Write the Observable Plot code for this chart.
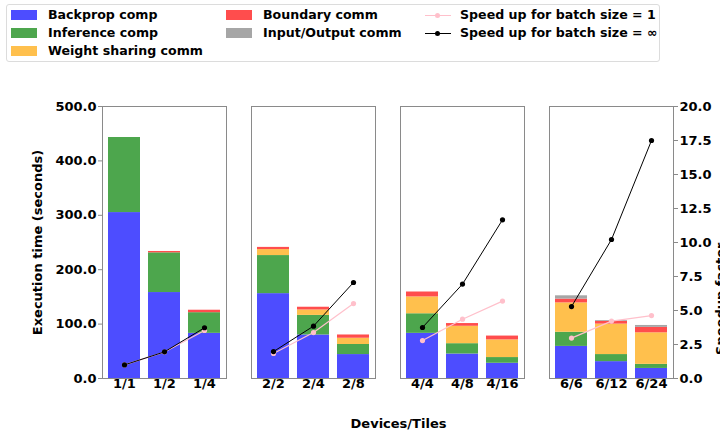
<!DOCTYPE html>
<html>
<head>
<meta charset="utf-8">
<script src="https://cdn.jsdelivr.net/npm/d3@7"></script>
<script src="https://cdn.jsdelivr.net/npm/@observablehq/plot@0.6"></script>
<style>
  body { margin: 0; background: white; }
  #wrap { position: relative; width: 720px; height: 435px; overflow: hidden; font-family: "DejaVu Sans", sans-serif; font-weight: bold; }
  #wrap svg { position: absolute; left: 0; top: 0; }
  #legend { position: absolute; left: 6px; top: 4px; width: 654px; height: 58px; border: 1px solid #dcdcdc; border-radius: 3px; background: white; box-sizing: border-box; z-index: 5; }
  .item { position: absolute; font-size: 12.6px; line-height: 16px; white-space: nowrap; color: black; }
  .sw { position: absolute; width: 26px; height: 10px; }
  .ln { position: absolute; width: 26px; height: 1px; }
  .dt { position: absolute; width: 5px; height: 5px; border-radius: 50%; }
</style>
</head>
<body>
<div id="wrap">
  <div id="legend"></div>
</div>
<script>
// ---- data ----
const groups = ["1", "2", "4", "6"];
const tileLabels = ["1/1", "1/2", "1/4", "2/2", "2/4", "2/8", "4/4", "4/8", "4/16", "6/6", "6/12", "6/24"];
const components = ["Backprop comp", "Inference comp", "Weight sharing comm", "Boundary comm", "Input/Output comm"];
const componentColors = ["#4d4dff", "#4da64d", "#ffc04d", "#ff4d4d", "#a6a6a6"];
const backprop      = [305, 158, 83, 156, 80, 44, 83, 45, 28, 59, 31, 18.5];
const inference     = [138, 73, 38, 70, 36, 18.5, 36, 19, 10.5, 26, 13, 7.5];
const weightSharing = [0, 0, 0, 11, 10, 11.5, 31, 32, 32.5, 54, 56, 58];
const boundary      = [0, 2.5, 4.5, 4, 5, 6, 9, 5, 7, 7, 5, 10];
const inputOutput   = [0, 0, 0, 0, 0, 0, 0, 0, 0, 6, 1.5, 3.5];
const speedupBatch1   = [1.0, 1.95, 3.53, 1.84, 3.38, 5.51, 2.79, 4.36, 5.69, 2.97, 4.22, 4.63];
const speedupBatchInf = [1.0, 1.96, 3.73, 1.98, 3.85, 7.06, 3.75, 6.94, 11.67, 5.29, 10.22, 17.5];
const timeTicks = [0, 100, 200, 300, 400, 500];
const speedTicks = [0, 2.5, 5, 7.5, 10, 12.5, 15, 17.5, 20];

// ---- tables ----
const series = [backprop, inference, weightSharing, boundary, inputOutput];
const tiles = tileLabels.map((label, i) => ({label, group: label.split("/")[0], idx: i % 3, s1: speedupBatch1[i], sInf: speedupBatchInf[i]}));
const stacks = [];
tiles.forEach((t, i) => components.forEach((c, k) => {
  if (series[k][i] > 0) stacks.push({group: t.group, idx: t.idx, comp: c, value: series[k][i]});
}));

const common = {
  width: 720, height: 435,
  marginTop: 106, marginBottom: 57, marginLeft: 101, marginRight: 45,
  style: {fontFamily: "DejaVu Sans", fontWeight: "bold", fontSize: "13px", color: "black", background: "transparent"},
  fx: {domain: groups, paddingInner: 0.167, paddingOuter: 0, axis: null, label: null},
  x: {type: "band", domain: [0, 1, 2], paddingInner: 0.2, paddingOuter: 0.14, axis: null}
};

const bars = Plot.plot({
  ...common,
  y: {domain: [0, 500]},
  color: {domain: components, range: componentColors},
  marks: [
    Plot.barY(stacks, {fx: "group", x: "idx", y: "value", fill: "comp", order: components}),
    Plot.frame({stroke: "#8a8a8a"}),
    Plot.axisY({ticks: timeTicks, tickFormat: d => d.toFixed(1), tickSize: 4, tickPadding: 2, stroke: "#8a8a8a", fill: "black",
      label: "Execution time (seconds)", labelAnchor: "center", labelOffset: 70, labelArrow: "none"}),
    Plot.text(tiles, {fx: "group", x: "idx", text: "label", frameAnchor: "bottom", dy: 9, fill: "black"}),
    Plot.text([{group: "4", t: "Devices/Tiles"}], {fx: "group", text: "t", frameAnchor: "bottom-left", textAnchor: "middle", dx: -2, dy: 49, fill: "black"})
  ]
});

const speed = Plot.plot({
  ...common,
  y: {domain: [0, 20]},
  marks: [
    Plot.line(tiles, {fx: "group", x: "idx", y: "s1", stroke: "pink", strokeWidth: 1.2}),
    Plot.dot(tiles, {fx: "group", x: "idx", y: "s1", fill: "pink", r: 2.6}),
    Plot.line(tiles, {fx: "group", x: "idx", y: "sInf", stroke: "black", strokeWidth: 1}),
    Plot.dot(tiles, {fx: "group", x: "idx", y: "sInf", fill: "black", r: 2.6}),
    Plot.axisY({anchor: "right", ticks: speedTicks, tickFormat: d => d.toFixed(1), tickSize: 4, tickPadding: 2, stroke: "#8a8a8a", fill: "black", label: null}),
    Plot.text([{group: "6", t: "Speedup factor"}], {fx: "group", text: "t", frameAnchor: "right", rotate: -90, dx: 47, fill: "black"})
  ]
});

const wrap = document.getElementById("wrap");
wrap.insertBefore(bars, wrap.firstChild);
wrap.insertBefore(speed, document.getElementById("legend"));

// ---- legend ----
const legend = document.getElementById("legend");
const L = (html) => legend.insertAdjacentHTML("beforeend", html);
const rowsY = [10, 28, 46]; // centers relative to legend box
const patchEntries = [
  [components[0], componentColors[0], 4, rowsY[0]],
  [components[1], componentColors[1], 4, rowsY[1]],
  [components[2], componentColors[2], 4, rowsY[2]],
  [components[3], componentColors[3], 219, rowsY[0]],
  [components[4], componentColors[4], 219, rowsY[1]]
];
patchEntries.forEach(([name, col, x, y]) => {
  L(`<div class="sw" style="left:${x}px;top:${y - 5}px;background:${col}"></div>`);
  L(`<div class="item" style="left:${x + 37}px;top:${y - 8}px">${name}</div>`);
});
const lineEntries = [["Speed up for batch size = 1", "pink", rowsY[0]], ["Speed up for batch size = ∞", "black", rowsY[1]]];
lineEntries.forEach(([name, col, y]) => {
  L(`<div class="ln" style="left:418px;top:${y}px;background:${col}"></div>`);
  L(`<div class="dt" style="left:428px;top:${y - 2}px;background:${col}"></div>`);
  L(`<div class="item" style="left:453px;top:${y - 8}px">${name}</div>`);
});
</script>
</body>
</html>
